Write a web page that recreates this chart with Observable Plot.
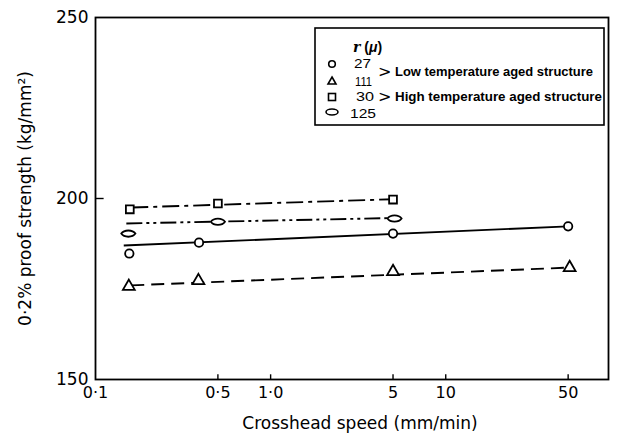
<!DOCTYPE html>
<html>
<head>
<meta charset="utf-8">
<script src="https://cdn.jsdelivr.net/npm/d3@7"></script>
<script src="https://cdn.jsdelivr.net/npm/@observablehq/plot@0.6"></script>
<style>
  html, body { margin: 0; padding: 0; background: #fff; }
  #wrap { position: relative; width: 618px; height: 441px; }
  #wrap svg { position: absolute; left: 0; top: 0; }
</style>
</head>
<body>
<div id="wrap"></div>
<script>
// ---- data ----
const xTicks = [0.1, 0.5, 1, 5, 10, 50];
const xTickLabels = ["0·1", "0·5", "1·0", "5", "10", "50"];
const yTicks = [150, 200, 250];

// r = 27 μ (low temperature aged) – circles
const circleX = [0.156, 0.39, 5, 50];
const circleY = [184.8, 187.8, 190.3, 192.3];
// r = 111 μ (low temperature aged) – triangles
const triangleX = [0.155, 0.387, 5, 51];
const triangleY = [175.7, 177.3, 179.8, 180.9];
// r = 30 μ (high temperature aged) – squares
const squareX = [0.157, 0.5, 5];
const squareY = [197.0, 198.6, 199.7];
// r = 125 μ (high temperature aged) – ellipses
const ellipseX = [0.154, 0.5, 5.1];
const ellipseY = [190.3, 193.6, 194.5];

// fitted lines (start / end)
const circleFitX = [0.145, 50];
const circleFitY = [187.0, 192.3];
const triangleFitX = [0.16, 50];
const triangleFitY = [176.0, 180.9];
const squareFitX = [0.16, 5];
const squareFitY = [197.5, 199.8];
const ellipseFitX = [0.15, 5];
const ellipseFitY = [193.1, 194.6];

const legendRadii = ["27", "111", "30", "125"];
const legendGroups = ["Low temperature aged structure", "High temperature aged structure"];

// ---- build ----
const pts = (xs, ys) => xs.map((x, i) => ({x, y: ys[i]}));
const xTickRows = xTicks.map((x, i) => ({x, label: xTickLabels[i]}));

const ellipseSymbol = {
  draw(ctx, size) {
    const s = Math.sqrt(size);
    const w = s * 0.95, h = s * 0.42;
    ctx.moveTo(-w, 0);
    ctx.bezierCurveTo(-w * 0.6, -h * 1.33, w * 0.6, -h * 1.33, w, 0);
    ctx.bezierCurveTo(w * 0.6, h * 1.33, -w * 0.6, h * 1.33, -w, 0);
    ctx.closePath();
  }
};

const lineStyle = {stroke: "#000", strokeWidth: 1.9, strokeLinecap: "butt"};
const dotStyle = {stroke: "#000", fill: "#fff", strokeWidth: 1.8};

const chart = Plot.plot({
  width: 618,
  height: 441,
  marginLeft: 95,
  marginRight: 10,
  marginTop: 17,
  marginBottom: 62,
  style: {fontFamily: "DejaVu Sans", fontSize: "16px", color: "#000", background: "transparent"},
  x: {type: "log", domain: [0.1, 85], axis: null},
  y: {domain: [150, 250], axis: null},
  marks: [
    Plot.text(xTickRows, {x: "x", text: "label", frameAnchor: "bottom", dy: 18, fontSize: 16, fill: "#000"}),
    Plot.text(yTicks, {y: (d) => d, text: (d) => String(d), frameAnchor: "left", dx: -7, textAnchor: "end", fontSize: 17, fill: "#000"}),
    Plot.ruleX(xTicks.slice(1), {y1: 150, y2: 151.3, stroke: "#000", strokeWidth: 1.4}),
    Plot.ruleY([200], {x1: 0.1, x2: 0.112, stroke: "#000", strokeWidth: 1.4}),
    Plot.line(pts(circleFitX, circleFitY), {x: "x", y: "y", ...lineStyle}),
    Plot.line(pts(triangleFitX, triangleFitY), {x: "x", y: "y", ...lineStyle, strokeDasharray: "13,7"}),
    Plot.line(pts(squareFitX, squareFitY), {x: "x", y: "y", ...lineStyle, strokeDasharray: "17,5,4,5"}),
    Plot.line(pts(ellipseFitX, ellipseFitY), {x: "x", y: "y", ...lineStyle, strokeDasharray: "16,4,3,4,3,4"}),
    Plot.dot(pts(circleX, circleY), {x: "x", y: "y", symbol: "circle", r: 4.2, ...dotStyle}),
    Plot.dot(pts(triangleX, triangleY), {x: "x", y: "y", symbol: "triangle", r: 4.4, ...dotStyle}),
    Plot.dot(pts(squareX, squareY), {x: "x", y: "y", symbol: "square", r: 4.4, ...dotStyle}),
    Plot.dot(pts(ellipseX, ellipseY), {x: "x", y: "y", symbol: ellipseSymbol, r: 4.2, ...dotStyle}),
    Plot.frame({stroke: "#000", strokeWidth: 1.8}),
    Plot.text(["Crosshead speed (mm/min)"], {frameAnchor: "bottom", dy: 49, dx: 8, fontSize: 17, fill: "#000"}),
    Plot.text(["0·2% proof strength (kg/mm²)"], {frameAnchor: "left", rotate: -90, textAnchor: "middle", dx: -70, dy: 0, fontSize: 17, fill: "#000"})
  ]
});

const wrap = document.getElementById("wrap");
wrap.appendChild(chart);

// ---- legend overlay ----
const lg = d3.select(wrap).append("svg")
  .attr("width", 618).attr("height", 441)
  .style("pointer-events", "none")
  .style("font-family", "Liberation Sans, Arial, sans-serif");

lg.append("rect").attr("x", 315).attr("y", 28).attr("width", 289).attr("height", 97)
  .attr("fill", "#fff").attr("stroke", "#000").attr("stroke-width", 1.6);

const t = lg.append("text").attr("x", 353).attr("y", 52).attr("font-size", 14).attr("font-weight", "bold");
t.append("tspan").attr("font-style", "italic").attr("font-family", "DejaVu Serif").text("r");
t.append("tspan").text(" (");
t.append("tspan").attr("font-style", "italic").text("μ");
t.append("tspan").text(")");

const symY = [64, 81, 97, 112];
const sym = lg.append("g").attr("stroke", "#000").attr("stroke-width", 1.6).attr("fill", "#fff");
sym.append("circle").attr("cx", 332).attr("cy", symY[0]).attr("r", 3.3);
sym.append("path").attr("d", `M332,${symY[1]-4} L336,${symY[1]+3} L328,${symY[1]+3} Z`);
sym.append("rect").attr("x", 328.5).attr("y", symY[2]-3.5).attr("width", 7).attr("height", 7);
sym.append("ellipse").attr("cx", 332).attr("cy", symY[3]).attr("rx", 6).attr("ry", 3);

const numX = [354, 355, 356, 350];
const numY = [68, 86, 101, 118];
const numW = [17, 17, 18, 26];
legendRadii.forEach((r, i) => {
  lg.append("text").attr("x", numX[i]).attr("y", numY[i])
    .attr("font-size", 12).attr("font-family", "Liberation Sans")
    .attr("textLength", numW[i]).attr("lengthAdjust", "spacingAndGlyphs").text(r);
});

const brY = [77, 102];
brY.forEach((y, i) => {
  lg.append("text").attr("x", 378).attr("y", y).attr("font-size", 16).attr("font-family", "DejaVu Sans").text(">");
  lg.append("text").attr("x", 395).attr("y", y - 1).attr("font-size", 12).attr("font-weight", "bold")
    .attr("textLength", i === 0 ? 198 : 207).attr("lengthAdjust", "spacingAndGlyphs").text(legendGroups[i]);
});
</script>
</body>
</html>
